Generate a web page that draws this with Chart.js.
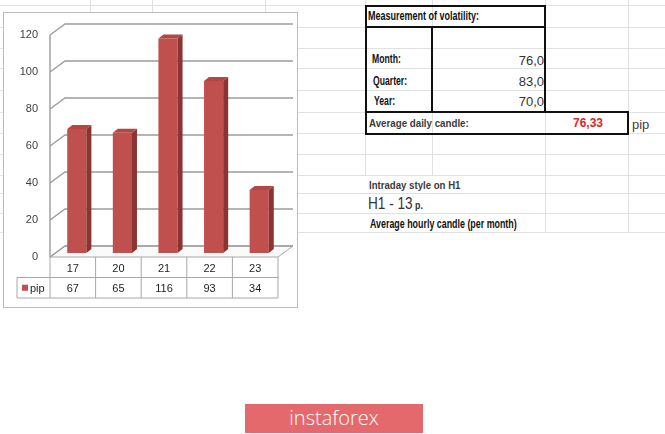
<!DOCTYPE html>
<html>
<head>
<meta charset="utf-8">
<script src="https://cdn.jsdelivr.net/npm/chart.js@4.4.1/dist/chart.umd.min.js"></script>
<style>
body{margin:0;width:665px;height:434px;background:#fff;position:relative;overflow:hidden;font-family:"Liberation Sans",Arial,sans-serif}
.ln{position:absolute;background:#dfe1e2}
#frame{position:absolute;left:3px;top:12px;width:295px;height:296px;box-sizing:border-box;border:1px solid #bcbcbc;background:#fff}
#frame canvas{position:absolute;left:0;top:0}
.box{position:absolute;border:2px solid #111;box-sizing:border-box}
.t{position:absolute;white-space:nowrap;line-height:1;transform-origin:left center}
.nar{font-family:"Liberation Sans Narrow","Liberation Sans",sans-serif;font-weight:bold;color:#111}
#logo{position:absolute;left:245px;top:404px;width:178px;height:29px;background:#e4696d;color:#fff;font:300 20px "Open Sans",sans-serif;text-align:center;line-height:28px}
</style>
</head>
<body>
<div id="sheet"></div>

<div id="frame"><canvas id="pipChart" width="293" height="294"></canvas></div>

<!-- volatility block -->
<div class="box" style="left:365px;top:5px;width:181px;height:23px"></div>
<div class="box" style="left:365px;top:26px;width:181px;height:87px"></div>
<div style="position:absolute;left:431px;top:27px;width:2px;height:85px;background:#111"></div>
<div class="box" style="left:365px;top:111px;width:264px;height:24px"></div>

<div class="t nar" style="left:368px;top:10px;font-size:12px;transform:scaleX(0.75)">Measurement of volatility:</div>
<div class="t nar" style="left:372px;top:53px;font-size:12px;transform:scaleX(0.72)">Month:</div>
<div class="t nar" style="left:373px;top:75px;font-size:12px;transform:scaleX(0.72)">Quarter:</div>
<div class="t nar" style="left:374px;top:95px;font-size:12px;transform:scaleX(0.72)">Year:</div>
<div class="t" id="vMonth" style="right:121px;top:54px;font-size:13px;color:#333"></div>
<div class="t" id="vQuarter" style="right:121px;top:75px;font-size:13px;color:#333"></div>
<div class="t" id="vYear" style="right:121px;top:95px;font-size:13px;color:#333"></div>
<div class="t" style="left:369px;top:118px;font-size:11px;font-weight:bold;color:#3c3c3c;transform:scaleX(0.885)">Average daily candle:</div>
<div class="t" id="vAvg" style="left:573px;top:117px;font-size:12px;font-weight:bold;color:#e0242a"></div>
<div class="t" style="left:632px;top:118px;font-size:13px;color:#404040">pip</div>

<div class="t" style="left:369px;top:180px;font-size:11px;font-weight:bold;color:#3c3c3c;transform:scaleX(0.875)">Intraday style on H1</div>
<div class="t" style="left:368px;top:195px;font-size:17px;color:#333;transform:scaleX(0.8)">H1 - 13<span style="font-size:11px;font-weight:bold"> p.</span></div>
<div class="t nar" style="left:370px;top:218px;font-size:12px;transform:scaleX(0.74)">Average hourly candle (per month)</div>

<div id="logo">instaforex</div>

<script>
const categories = ['17', '20', '21', '22', '23'];
const pipValues = [67, 65, 116, 93, 34];
const seriesName = 'pip';
const yTickValues = [0, 20, 40, 60, 80, 100, 120];
const volatility = { month: '76,0', quarter: '83,0', year: '70,0' };
const avgDailyCandle = '76,33';

document.getElementById('vMonth').textContent = volatility.month;
document.getElementById('vQuarter').textContent = volatility.quarter;
document.getElementById('vYear').textContent = volatility.year;
document.getElementById('vAvg').textContent = avgDailyCandle;

// spreadsheet grid behind everything
const sheet = document.getElementById('sheet');
const rowLines = [5, 27, 48, 68, 90, 112, 133, 154, 175, 193, 213, 232];
const colLines = [[90, 0, 15], [152, 0, 15], [265, 0, 15], [365, 0, 175], [432, 0, 175], [545, 0, 232], [628, 0, 232]];
rowLines.forEach(y => {
    sheet.insertAdjacentHTML('beforeend', `<div class="ln" style="left:0;top:${y}px;width:665px;height:1px"></div>`);
});
colLines.forEach(([x, y0, y1]) => {
    sheet.insertAdjacentHTML('beforeend', `<div class="ln" style="left:${x}px;top:${y0}px;width:1px;height:${y1 - y0}px"></div>`);
});

// offsets of the front and back planes relative to the bar plane
const FRONT = { dx: -4, dy: 4 };
const BACK = { dx: 11, dy: -7 };
const DEPTH = { dx: 5, dy: -4 };

const excel3d = {
    id: 'excel3d',
    beforeDatasetsDraw(chart) {
        const { ctx, chartArea: ca, scales: { y } } = chart;
        const y0 = y.getPixelForValue(0);
        ctx.save();
        // floor
        ctx.beginPath();
        ctx.moveTo(ca.left + FRONT.dx, y0 + FRONT.dy);
        ctx.lineTo(ca.left + BACK.dx, y0 + BACK.dy);
        ctx.lineTo(ca.right + BACK.dx, y0 + BACK.dy);
        ctx.lineTo(ca.right + FRONT.dx, y0 + FRONT.dy);
        ctx.closePath();
        ctx.fillStyle = '#fafafa';
        ctx.fill();
        ctx.strokeStyle = '#a8a8a8';
        ctx.lineWidth = 1;
        ctx.stroke();

        // gridlines on side wall + back wall
        ctx.strokeStyle = '#9c9c9c';
        ctx.lineWidth = 1.4;
        y.ticks.forEach(t => {
            const py = y.getPixelForValue(t.value);
            ctx.beginPath();
            ctx.moveTo(ca.left + FRONT.dx, py + FRONT.dy);
            ctx.lineTo(ca.left + BACK.dx, py + BACK.dy);
            ctx.lineTo(ca.right + BACK.dx, py + BACK.dy);
            ctx.stroke();
        });
        // left wall edge
        ctx.beginPath();
        ctx.moveTo(ca.left + FRONT.dx, y.getPixelForValue(y.max) + FRONT.dy);
        ctx.lineTo(ca.left + FRONT.dx, y0 + FRONT.dy);
        ctx.stroke();
        ctx.restore();
    },
    afterDatasetsDraw(chart) {
        const { ctx } = chart;
        const meta = chart.getDatasetMeta(0);
        ctx.save();
        meta.data.forEach(bar => {
            const { x, y, base, width } = bar.getProps(['x', 'y', 'base', 'width'], true);
            const l = x - width / 2, r = x + width / 2;
            // side
            ctx.beginPath();
            ctx.moveTo(r, y);
            ctx.lineTo(r + DEPTH.dx, y + DEPTH.dy);
            ctx.lineTo(r + DEPTH.dx, base + DEPTH.dy);
            ctx.lineTo(r, base);
            ctx.closePath();
            ctx.fillStyle = '#8a3533';
            ctx.fill();
            // top
            ctx.beginPath();
            ctx.moveTo(l, y);
            ctx.lineTo(l + DEPTH.dx, y + DEPTH.dy);
            ctx.lineTo(r + DEPTH.dx, y + DEPTH.dy);
            ctx.lineTo(r, y);
            ctx.closePath();
            ctx.fillStyle = '#b44643';
            ctx.fill();
        });
        ctx.restore();
    },
    afterDraw(chart) {
        const { ctx, chartArea: ca, scales: { x, y } } = chart;
        ctx.save();
        // y tick labels on the front plane
        ctx.font = '11px "Liberation Sans", Arial, sans-serif';
        ctx.fillStyle = '#404040';
        ctx.textAlign = 'right';
        ctx.textBaseline = 'middle';
        y.ticks.forEach(t => {
            ctx.fillText(t.label, ca.left + FRONT.dx - 12, y.getPixelForValue(t.value) + FRONT.dy);
        });

        // data table under the floor
        const top = y.getPixelForValue(0) + FRONT.dy;
        const rowH = 20.5;
        const catW = x.width / categories.length;
        const tl = ca.left + FRONT.dx, tr = ca.right + FRONT.dx;
        const legL = tl - 33;
        ctx.strokeStyle = '#a8a8a8';
        ctx.lineWidth = 1;
        ctx.beginPath();
        ctx.moveTo(legL, top + rowH); ctx.lineTo(tr, top + rowH);
        ctx.moveTo(legL, top + 2 * rowH); ctx.lineTo(tr, top + 2 * rowH);
        ctx.moveTo(legL, top + rowH); ctx.lineTo(legL, top + 2 * rowH);
        categories.forEach((c, i) => {
            const cx = x.getPixelForValue(i) - catW / 2 + FRONT.dx;
            ctx.moveTo(cx, top); ctx.lineTo(cx, top + 2 * rowH);
        });
        ctx.moveTo(tr, top); ctx.lineTo(tr, top + 2 * rowH);
        ctx.stroke();

        ctx.fillStyle = '#1e1e1e';
        ctx.textAlign = 'center';
        categories.forEach((c, i) => {
            const cx = x.getPixelForValue(i) + FRONT.dx;
            ctx.fillText(c, cx, top + rowH / 2 + 2);
            ctx.fillText(String(pipValues[i]), cx, top + rowH * 1.5 + 1);
        });
        // legend key
        ctx.fillStyle = '#c0504d';
        ctx.fillRect(legL + 5, top + rowH * 1.5 - 3, 6, 6);
        ctx.fillStyle = '#1e1e1e';
        ctx.textAlign = 'left';
        ctx.fillText(seriesName, legL + 13, top + rowH * 1.5 + 1);
        ctx.restore();
    }
};

new Chart(document.getElementById('pipChart'), {
    type: 'bar',
    data: {
        labels: categories,
        datasets: [{
            label: seriesName,
            data: pipValues,
            backgroundColor: '#c0504d',
            barPercentage: 0.42,
            categoryPercentage: 1
        }]
    },
    options: {
        responsive: false,
        animation: false,
        layout: { padding: { left: 50, right: 15, top: 18, bottom: 54 } },
        plugins: { legend: { display: false }, tooltip: { enabled: false } },
        scales: {
            x: { display: false },
            y: {
                display: false,
                min: 0,
                max: 120,
                afterBuildTicks(scale) {
                    scale.ticks = yTickValues.map(v => ({ value: v, label: String(v) }));
                }
            }
        }
    },
    plugins: [excel3d]
});
</script>
</body>
</html>
